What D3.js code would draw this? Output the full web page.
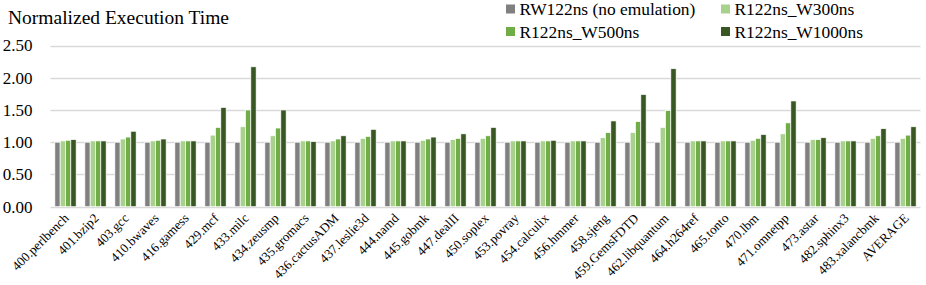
<!DOCTYPE html>
<html>
<head>
<meta charset="utf-8">
<script src="https://cdn.jsdelivr.net/npm/d3@7"></script>
<style>
  body { margin: 0; background: #fff; }
</style>
</head>
<body>
<script>
var categories = ["400.perlbench", "401.bzip2", "403.gcc", "410.bwaves", "416.gamess", "429.mcf",
    "433.milc", "434.zeusmp", "435.gromacs", "436.cactusADM", "437.leslie3d", "444.namd",
    "445.gobmk", "447.dealII", "450.soplex", "453.povray", "454.calculix", "456.hmmer",
    "458.sjeng", "459.GemsFDTD", "462.libquantum", "464.h264ref", "465.tonto", "470.lbm",
    "471.omnetpp", "473.astar", "482.sphinx3", "483.xalancbmk", "AVERAGE"];

var seriesNames = ["RW122ns (no emulation)", "R122ns_W300ns", "R122ns_W500ns", "R122ns_W1000ns"];
var seriesColors = ["#808080", "#a9d18e", "#70ad47", "#385723"];

var rw122 = [1,1,1,1,1,1,1,1,1,1,1,1,1,1,1,1,1,1,1,1,1,1,1,1,1,1,1,1,1];
var w300 = [1.02, 1.02, 1.05, 1.02, 1.02, 1.11, 1.24, 1.10, 1.02, 1.02, 1.06, 1.02, 1.03, 1.04, 1.06,
    1.02, 1.02, 1.02, 1.07, 1.15, 1.23, 1.02, 1.02, 1.03, 1.13, 1.04, 1.02, 1.06, 1.06];
var w500 = [1.03, 1.02, 1.08, 1.03, 1.02, 1.23, 1.50, 1.22, 1.02, 1.05, 1.09, 1.02, 1.05, 1.06, 1.10,
    1.02, 1.02, 1.02, 1.15, 1.32, 1.49, 1.02, 1.02, 1.06, 1.30, 1.04, 1.02, 1.10, 1.11];
var w1000 = [1.04, 1.02, 1.17, 1.05, 1.02, 1.54, 2.17, 1.50, 1.01, 1.10, 1.20, 1.02, 1.08, 1.13, 1.23,
    1.02, 1.03, 1.02, 1.33, 1.74, 2.14, 1.02, 1.02, 1.12, 1.64, 1.07, 1.02, 1.21, 1.24];

var yTicks = [0, 0.5, 1, 1.5, 2, 2.5];

var width = 926, height = 285;
var plot = { left: 50.5, right: 920.5, top: 45.5, bottom: 206.7 };
var serif = "'Liberation Serif', Tinos, 'Times New Roman', 'DejaVu Serif', serif";

var svg = d3.select("body").append("svg")
    .attr("width", width)
    .attr("height", height)
    .attr("font-family", serif);

var x0 = d3.scaleBand()
    .domain(categories)
    .range([plot.left, plot.right])
    .paddingInner(0.29)
    .paddingOuter(0.145);

var x1 = d3.scaleBand()
    .domain(d3.range(seriesNames.length))
    .range([0, x0.bandwidth()]);

var y = d3.scaleLinear()
    .domain([0, 2.5])
    .range([plot.bottom, plot.top]);

// grid lines
svg.append("g")
    .selectAll("line")
    .data(yTicks)
    .enter().append("line")
      .attr("x1", plot.left)
      .attr("x2", plot.right)
      .attr("y1", d => Math.round(y(d)) + 0.5)
      .attr("y2", d => Math.round(y(d)) + 0.5)
      .attr("stroke", "#d9d9d9")
      .attr("stroke-width", 1.3);

// y labels
svg.append("g")
    .selectAll("text")
    .data(yTicks)
    .enter().append("text")
      .attr("x", 32.5)
      .attr("y", d => y(d))
      .attr("dy", "0.35em")
      .attr("text-anchor", "end")
      .attr("font-size", 17)
      .text(d => d3.format(".2f")(d));

var allSeries = [rw122, w300, w500, w1000];

var groups = svg.append("g")
    .selectAll("g")
    .data(categories)
    .enter().append("g")
      .attr("transform", d => "translate(" + x0(d) + ",0)");

groups.selectAll("rect")
    .data((d, i) => allSeries.map((s, k) => ({ k: k, v: s[i] })))
    .enter().append("rect")
      .attr("x", d => x1(d.k))
      .attr("width", x1.bandwidth())
      .attr("y", d => y(d.v))
      .attr("height", d => y(0) - y(d.v))
      .attr("fill", d => seriesColors[d.k])
      .attr("stroke", "#fff")
      .attr("stroke-width", 0.7);

// category labels
svg.append("g")
    .selectAll("text")
    .data(categories)
    .enter().append("text")
      .attr("text-anchor", "end")
      .attr("transform", d => "translate(" + (x0(d) + x0.bandwidth() / 2 + 4) + ",219) rotate(-45)")
      .attr("font-size", 13)
      .text(d => d);

// title
svg.append("text")
    .attr("x", 8)
    .attr("y", 24)
    .attr("font-size", 19.5)
    .text("Normalized Execution Time");

// legend
var legendPos = [[506, 9], [721, 9], [506, 31.5], [721, 31.5]];
var legend = svg.append("g")
    .selectAll("g")
    .data(seriesNames)
    .enter().append("g")
      .attr("transform", (d, i) => "translate(" + legendPos[i][0] + "," + legendPos[i][1] + ")");

legend.append("rect")
    .attr("x", 0)
    .attr("y", -4.5)
    .attr("width", 9)
    .attr("height", 9)
    .attr("fill", (d, i) => seriesColors[i]);

legend.append("text")
    .attr("x", 13.5)
    .attr("dy", "0.35em")
    .attr("font-size", 17.4)
    .text(d => d);
</script>
</body>
</html>
